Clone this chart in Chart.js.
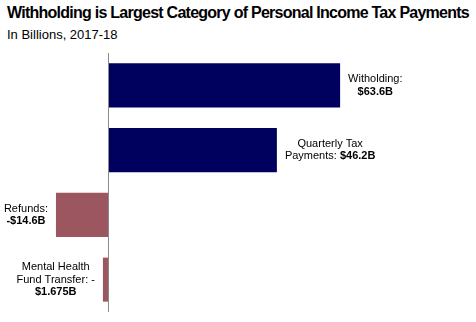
<!DOCTYPE html>
<html>
<head>
<meta charset="utf-8">
<script src="https://cdn.jsdelivr.net/npm/chart.js@4"></script>
<style>
  html, body { margin: 0; padding: 0; background: #fff; }
  #wrap { position: relative; width: 476px; height: 322px; overflow: hidden; }
  #title { position: absolute; left: 7px; top: 4px; font: bold 16px "Liberation Sans", Arial, sans-serif; color: #000; white-space: nowrap; }
  #subtitle { position: absolute; left: 7px; top: 27px; font: 13px "Liberation Sans", Arial, sans-serif; color: #000; white-space: nowrap; }
  canvas { position: absolute; left: 0; top: 0; }
</style>
</head>
<body>
<div id="wrap">
  <div id="title">Withholding is Largest Category of Personal Income Tax Payments</div>
  <div id="subtitle">In Billions, 2017-18</div>
  <canvas id="myChart" width="476" height="322"></canvas>
</div>
<script>
// datos del grafico
const categories = ["Witholding", "Quarterly Tax Payments", "Refunds", "Mental Health Fund Transfer"];
const values = [63.6, 46.2, -14.6, -1.675];
const barColors = ["#00005e", "#00005e", "#9c5660", "#9c5660"];

// etiquetas: cada linea es una lista de [texto, negrita]
const labelLines = [
  [[["Witholding:", false]], [["$63.6B", true]]],
  [[["Quarterly Tax", false]], [["Payments: ", false], ["$46.2B", true]]],
  [[["Refunds:", false]], [["-$14.6B", true]]],
  [[["Mental Health", false]], [["Fund Transfer: -", false]], [["$1.675B", true]]],
];

const FONT = '"Liberation Sans", Arial, sans-serif';

// ajustar el titulo al ancho del original
function fitText(el, target) {
  const w = el.getBoundingClientRect().width;
  const n = el.textContent.length;
  el.style.letterSpacing = (target - w) / n + "px";
}
fitText(document.getElementById("title"), 462);

// linea vertical en el cero
const zeroLine = {
  id: "zeroLine",
  afterDatasetsDraw(chart) {
    const ctx = chart.ctx;
    const x = Math.round(chart.scales.x.getPixelForValue(0)) - 0.5;
    ctx.save();
    ctx.strokeStyle = "#8c8c8c";
    ctx.lineWidth = 1;
    ctx.beginPath();
    ctx.moveTo(x, chart.chartArea.top);
    ctx.lineTo(x, chart.chartArea.bottom);
    ctx.stroke();
    ctx.restore();
  },
};

// etiquetas al lado de cada barra
const barLabels = {
  id: "barLabels",
  afterDatasetsDraw(chart) {
    const ctx = chart.ctx;
    const meta = chart.getDatasetMeta(0);
    const lineH = 12.5;
    const gap = 8;
    ctx.save();
    ctx.fillStyle = "#000";
    ctx.textBaseline = "middle";
    meta.data.forEach((bar, i) => {
      const lines = labelLines[i];
      const widths = lines.map((line) =>
        line.reduce((w, seg) => {
          ctx.font = (seg[1] ? "bold " : "") + "11px " + FONT;
          return w + ctx.measureText(seg[0]).width;
        }, 0)
      );
      const maxW = Math.max(...widths);
      const positive = values[i] >= 0;
      const center = positive ? bar.x + gap + maxW / 2 : bar.x - gap - maxW / 2;
      const y0 = bar.y - ((lines.length - 1) * lineH) / 2;
      lines.forEach((line, j) => {
        let x = center - widths[j] / 2;
        line.forEach((seg) => {
          ctx.font = (seg[1] ? "bold " : "") + "11px " + FONT;
          ctx.textAlign = "left";
          ctx.fillText(seg[0], x, y0 + j * lineH);
          x += ctx.measureText(seg[0]).width;
        });
      });
    });
    ctx.restore();
  },
};

const ctx = document.getElementById("myChart").getContext("2d");
new Chart(ctx, {
  type: "bar",
  data: {
    labels: categories,
    datasets: [
      {
        data: values,
        backgroundColor: barColors,
        borderWidth: 0,
        categoryPercentage: 1,
        barPercentage: 0.68,
      },
    ],
  },
  options: {
    indexAxis: "y",
    responsive: false,
    animation: false,
    layout: { padding: { top: 53, bottom: 10, left: 0, right: 0 } },
    plugins: {
      legend: { display: false },
      tooltip: { enabled: false },
    },
    scales: {
      x: {
        min: -30,
        max: 101,
        display: false,
      },
      y: {
        display: false,
      },
    },
  },
  plugins: [zeroLine, barLabels],
});
</script>
</body>
</html>
